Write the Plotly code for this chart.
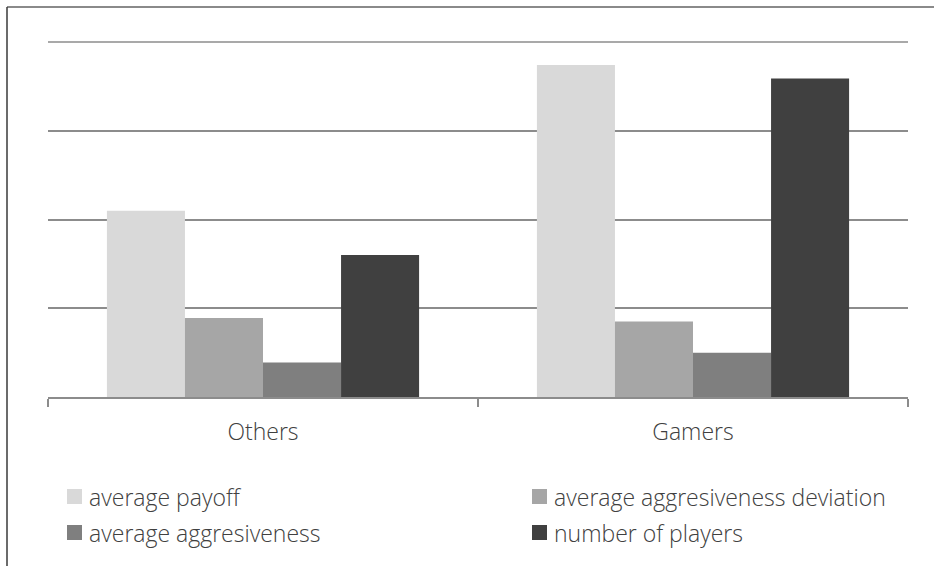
import plotly.graph_objects as go

# Groups and series values
categories = ["Others", "Gamers"]
series_names = [
    "average payoff",
    "average aggresiveness deviation",
    "average aggresiveness",
    "number of players",
]
average_payoff = [2.10, 3.74]
average_aggr_deviation = [0.89, 0.85]
average_aggr = [0.39, 0.50]
number_of_players = [1.60, 3.59]
y_ticks = [0, 1, 2, 3, 4]

series_values = [average_payoff, average_aggr_deviation, average_aggr, number_of_players]
colors = ["#d9d9d9", "#a6a6a6", "#7f7f7f", "#404040"]

FONT = "Open Sans"
TEXT_COLOR = "#404040"
GRID_COLOR = "#8c8c8c"
TEXT_SIZE = 23

W, H = 934, 566
L, R, T, B = 48, 26, 42, 169
PW, PH = W - L - R, H - T - B


def px_x(px):
    return (px - L) / PW


def px_y(py):
    return 1 - (py - T) / PH


fig = go.Figure()
for name, vals, col in zip(series_names, series_values, colors):
    fig.add_trace(go.Bar(
        x=categories, y=vals, name=name,
        marker=dict(color=col, line=dict(width=0)),
        showlegend=False,
    ))

# Outer frame (top and left edges)
shapes = [
    dict(type="line", xref="paper", yref="paper",
         x0=px_x(7), x1=px_x(W + 5), y0=px_y(7), y1=px_y(7),
         line=dict(color="#8a8a8a", width=2)),
    dict(type="line", xref="paper", yref="paper",
         x0=px_x(7), x1=px_x(7), y0=px_y(7), y1=px_y(H + 5),
         line=dict(color="#3a3a3a", width=1.5)),
    # gridline along the top edge of the plot area (y range max)
    dict(type="line", xref="paper", yref="paper",
         x0=0, x1=1, y0=1, y1=1,
         line=dict(color=GRID_COLOR, width=1.5), layer="below"),
]

# Legend laid out in two columns
annotations = []
legend_pos = [(67, 496.5), (532, 496.5), (67, 532.5), (532, 532.5)]
for name, col, (lx, ly) in zip(series_names, colors, legend_pos):
    shapes.append(dict(type="rect", xref="paper", yref="paper",
                       x0=px_x(lx), x1=px_x(lx + 15),
                       y0=px_y(ly - 7.5), y1=px_y(ly + 7.5),
                       fillcolor=col, line=dict(width=0)))
    annotations.append(dict(xref="paper", yref="paper",
                            x=px_x(lx + 20), y=px_y(ly),
                            xanchor="left", yanchor="middle",
                            text=name, showarrow=False,
                            font=dict(family=FONT, size=TEXT_SIZE, color=TEXT_COLOR, weight=300)))

fig.update_layout(
    width=W, height=H,
    margin=dict(l=L, r=R, t=T, b=B, autoexpand=False),
    paper_bgcolor="white", plot_bgcolor="white",
    barmode="group", bargap=0.274, bargroupgap=0,
    shapes=shapes, annotations=annotations,
    font=dict(family=FONT, color=TEXT_COLOR),
    xaxis=dict(
        showline=True, linecolor=GRID_COLOR, linewidth=1.5,
        ticks="outside", tickson="boundaries", ticklen=8,
        tickcolor=GRID_COLOR, tickwidth=1.5,
        ticklabelstandoff=14,
        tickfont=dict(family=FONT, size=TEXT_SIZE, color=TEXT_COLOR, weight=300),
        showgrid=False,
    ),
    yaxis=dict(
        range=[0, y_ticks[-1]], tickvals=y_ticks, showticklabels=False,
        showgrid=True, gridcolor=GRID_COLOR, gridwidth=1.5,
        zeroline=False, showline=False, ticks="",
    ),
)

fig.write_html("out.html")
